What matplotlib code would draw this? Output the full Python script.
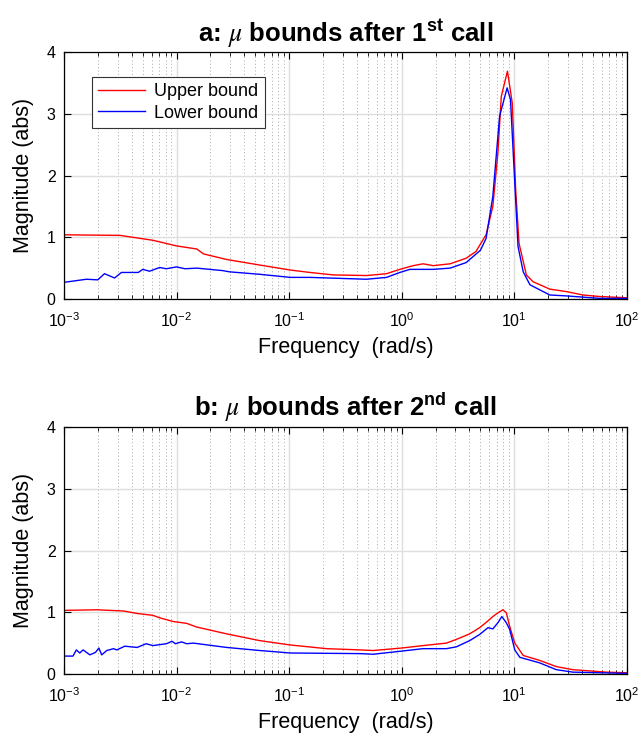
import numpy as np
import matplotlib
matplotlib.use("Agg")
import matplotlib.pyplot as plt
from matplotlib.ticker import LogLocator, NullFormatter, FixedLocator

plt.rcParams['font.family'] = ['Liberation Sans', 'DejaVu Sans']
plt.rcParams['mathtext.fontset'] = 'custom'
plt.rcParams['mathtext.it'] = 'STIXGeneral:italic'
plt.rcParams['mathtext.bf'] = 'Liberation Sans:bold'
plt.rcParams['mathtext.rm'] = 'Liberation Sans'
plt.rcParams['mathtext.default'] = 'rm'
plt.rcParams['axes.unicode_minus'] = False

# ---- Panel a: mu bounds after 1st call (log10 frequency, magnitude) ----
a_upper_logw = [-3.0, -2.50, -2.207, -2.0, -1.82, -1.76, -1.555, -1.26, -0.993, -0.815,
                -0.608, -0.312, -0.134, -0.016, 0.102, 0.19, 0.28, 0.43, 0.573, 0.66,
                0.75, 0.81, 0.855, 0.885, 0.94, 0.983, 1.013, 1.043, 1.108, 1.167,
                1.316, 1.464, 1.61, 1.76, 2.0]
a_upper_mag = [1.04, 1.03, 0.95, 0.86, 0.81, 0.73, 0.64, 0.55, 0.47, 0.43,
               0.39, 0.38, 0.41, 0.48, 0.54, 0.57, 0.54, 0.57, 0.66, 0.77,
               1.04, 1.50, 2.36, 3.28, 3.69, 3.17, 1.77, 0.90, 0.39, 0.28,
               0.16, 0.12, 0.065, 0.04, 0.02]

a_lower_logw = [-3.0, -2.80, -2.70, -2.64, -2.55, -2.49, -2.34, -2.30, -2.24, -2.15,
                -2.09, -2.0, -1.925, -1.82, -1.59, -1.53, -1.26, -0.99, -0.815, -0.312,
                -0.134, -0.016, 0.074, 0.28, 0.43, 0.573, 0.70, 0.75, 0.81, 0.87,
                0.937, 0.967, 1.005, 1.034, 1.08, 1.14, 1.316, 1.464, 1.76, 2.0]
a_lower_mag = [0.27, 0.32, 0.31, 0.41, 0.34, 0.43, 0.43, 0.48, 0.45, 0.51,
               0.49, 0.52, 0.49, 0.50, 0.46, 0.44, 0.40, 0.35, 0.35, 0.32,
               0.35, 0.43, 0.48, 0.48, 0.50, 0.59, 0.79, 0.98, 1.66, 2.96,
               3.42, 3.23, 1.88, 0.85, 0.44, 0.23, 0.065, 0.05, 0.01, 0.01]

# ---- Panel b: mu bounds after 2nd call ----
b_upper_logw = [-3.0, -2.71, -2.47, -2.35, -2.21, -2.15, -2.03, -1.91, -1.82, -1.555,
                -1.26, -0.99, -0.667, -0.37, -0.253, -0.003, 0.19, 0.397, 0.486, 0.604,
                0.693, 0.767, 0.81, 0.855, 0.90, 0.93, 0.96, 1.005, 1.08, 1.226,
                1.374, 1.52, 1.82, 2.0]
b_upper_mag = [1.03, 1.04, 1.02, 0.98, 0.95, 0.91, 0.85, 0.82, 0.76, 0.65,
               0.54, 0.47, 0.41, 0.39, 0.38, 0.42, 0.46, 0.50, 0.56, 0.65,
               0.75, 0.86, 0.93, 0.99, 1.04, 0.99, 0.77, 0.50, 0.30, 0.22,
               0.12, 0.07, 0.03, 0.02]

b_lower_logw = [-3.0, -2.92, -2.89, -2.86, -2.83, -2.77, -2.72, -2.69, -2.665, -2.62,
                -2.56, -2.53, -2.46, -2.35, -2.27, -2.21, -2.09, -2.04, -2.01, -1.955,
                -1.91, -1.85, -1.555, -1.26, -0.99, -0.37, -0.253, -0.003, 0.19, 0.397,
                0.486, 0.604, 0.693, 0.767, 0.81, 0.855, 0.89, 0.93, 0.96, 1.005,
                1.05, 1.226, 1.374, 1.52, 2.0]
b_lower_mag = [0.29, 0.29, 0.39, 0.34, 0.39, 0.31, 0.35, 0.42, 0.31, 0.38,
               0.41, 0.39, 0.45, 0.43, 0.49, 0.46, 0.49, 0.53, 0.49, 0.52,
               0.49, 0.50, 0.43, 0.38, 0.34, 0.33, 0.32, 0.37, 0.41, 0.41,
               0.44, 0.54, 0.64, 0.75, 0.73, 0.83, 0.93, 0.83, 0.72, 0.39,
               0.27, 0.18, 0.07, 0.03, 0.01]

titles = [r"a: $\mathit{\mu}$ bounds after 1$^{\mathbf{st}}$ call",
          r"b: $\mathit{\mu}$ bounds after 2$^{\mathbf{nd}}$ call"]
legend_labels = ["Upper bound", "Lower bound"]
y_ticks = [0, 1, 2, 3, 4]

fig = plt.figure(figsize=(6.41, 7.37), dpi=100)
ax_a = fig.add_axes([0.0998, 0.5943, 0.878, 0.3351])
ax_b = fig.add_axes([0.0998, 0.0855, 0.878, 0.3351])

panels = [
    (ax_a, a_upper_logw, a_upper_mag, a_lower_logw, a_lower_mag, titles[0], True),
    (ax_b, b_upper_logw, b_upper_mag, b_lower_logw, b_lower_mag, titles[1], False),
]

for ax, uw, um, lw_, lm, title, show_leg in panels:
    ax.plot(10 ** np.array(uw), um, color='#ff0000', lw=1.0, label=legend_labels[0])
    ax.plot(10 ** np.array(lw_), lm, color='#0000ff', lw=1.0, label=legend_labels[1])
    ax.set_xscale('log')
    ax.set_xlim(1e-3, 1e2)
    ax.set_ylim(0, 4)
    ax.yaxis.set_major_locator(FixedLocator(y_ticks))
    ax.xaxis.set_major_locator(LogLocator(base=10, numticks=10))
    ax.xaxis.set_minor_locator(LogLocator(base=10, subs=np.arange(2, 10), numticks=20))
    ax.xaxis.set_minor_formatter(NullFormatter())
    ax.grid(True, which='major', color='#dedede', lw=1.0, ls='-')
    ax.grid(True, which='minor', axis='x', color='#a8a8a8', lw=0.7, ls=(0, (1, 2.5)))
    ax.set_axisbelow(True)
    ax.tick_params(which='both', direction='in', top=True, right=True, labelsize=11.5)
    ax.tick_params(axis='x', which='major', pad=9)
    ax.tick_params(axis='y', which='major', pad=6)
    ax.tick_params(which='major', length=5, width=0.8)
    ax.tick_params(which='minor', length=3, width=0.6)
    for s in ax.spines.values():
        s.set_linewidth(0.9)
    ax.set_xlabel("Frequency  (rad/s)", fontsize=15.5, labelpad=5)
    ax.set_ylabel("Magnitude (abs)", fontsize=15.5, labelpad=9)
    ax.set_title(title, fontsize=18.5, fontweight='bold', pad=8)
    if show_leg:
        leg = ax.legend(loc='upper left', bbox_to_anchor=(0.05, 0.9), fontsize=13,
                        fancybox=False, framealpha=1, edgecolor='#333333',
                        handlelength=2.6, borderpad=0.35, labelspacing=0.25,
                        handletextpad=0.5, borderaxespad=0)
        leg.get_frame().set_linewidth(0.8)

fig.savefig("out.png", dpi=100)
